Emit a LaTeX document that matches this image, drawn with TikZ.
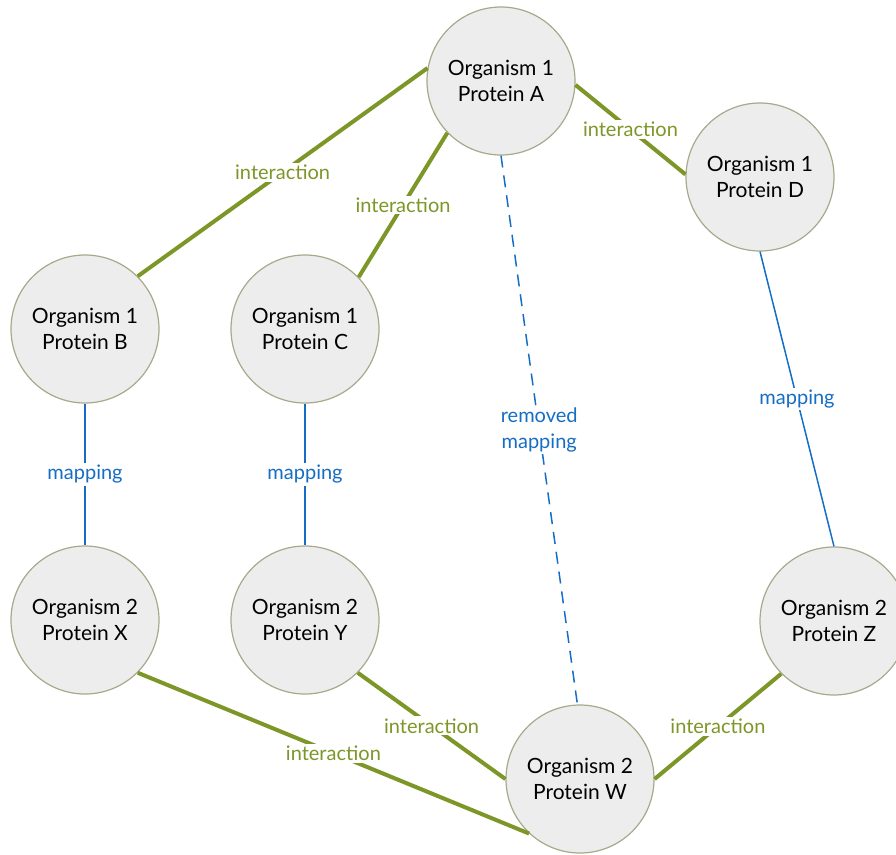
\documentclass[tikz,border=0pt]{standalone}
\usepackage{fontspec}
\setmainfont{Lato}
\definecolor{igreen}{RGB}{125,150,40}
\definecolor{mblue}{RGB}{22,110,196}
\definecolor{cborder}{RGB}{168,168,140}
\definecolor{cfill}{RGB}{237,237,237}
\tikzset{
  prot/.style={circle, draw=cborder, line width=1.2pt, fill=cfill, minimum size=148pt, inner sep=0pt,
    align=center, font=\fontsize{21}{26}\selectfont, text=black},
  inter/.style={draw=igreen, line width=4pt},
  mapl/.style={draw=mblue, line width=1.5pt},
  ilab/.style={fill=white, inner sep=2pt, text=igreen, font=\fontsize{20}{24}\selectfont},
  mlab/.style={fill=white, inner sep=2pt, text=mblue, font=\fontsize{20}{26}\selectfont, align=center},
}
\begin{document}
\begin{tikzpicture}[x=1pt,y=-1pt]
\useasboundingbox (0,0) rectangle (896,854);
\node[prot] (A) at (501,81) {Organism 1\\Protein A};
\node[prot] (D) at (760,177) {Organism 1\\Protein D};
\node[prot] (B) at (85,329) {Organism 1\\Protein B};
\node[prot] (C) at (305,329) {Organism 1\\Protein C};
\node[prot] (X) at (85,620) {Organism 2\\Protein X};
\node[prot] (Y) at (305,620) {Organism 2\\Protein Y};
\node[prot] (Z) at (834,621) {Organism 2\\Protein Z};
\node[prot] (W) at (580,779) {Organism 2\\Protein W};

\draw[inter] (A.170) -- node[ilab, pos=0.5] (lab1) {interaction} (B.45);
\draw[inter] (A.224) -- node[ilab, pos=0.5] (lab2) {interaction} (C.44);
\draw[inter] (A.-3) -- node[ilab, pos=0.5] (lab3) {interaction} (D.178);
\draw[inter] (X.-45) -- node[ilab, pos=0.5] (lab4) {interaction} (W.227);
\draw[inter] (Y.-45) -- node[ilab, pos=0.5] (lab5) {interaction} (W.180);
\draw[inter] (Z.225) -- node[ilab, pos=0.5] (lab6) {interaction} (W.0);

\draw[mapl] (B) -- node[mlab] (m1) {mapping} (X);
\draw[mapl] (C) -- node[mlab] (m2) {mapping} (Y);
\draw[mapl] (D.270) -- node[mlab, pos=0.5] (m3) {mapping} (Z.90);
\draw[mapl, dash pattern=on 12pt off 8pt] (A.270) -- node[mlab, pos=0.5] (m4) {removed\\mapping} (W.92);
\end{tikzpicture}
\end{document}
